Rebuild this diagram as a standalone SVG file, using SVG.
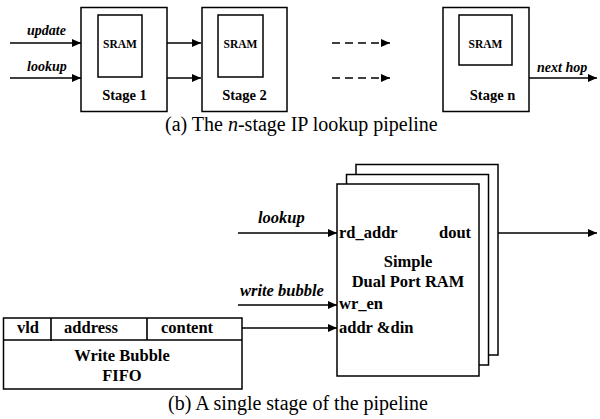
<svg xmlns="http://www.w3.org/2000/svg" width="600" height="419" viewBox="0 0 600 419">
<style>
.box{fill:#fff;stroke:#000;stroke-width:1.5}
.ln{fill:none;stroke:#000;stroke-width:1.6}
.arr{fill:none;stroke:#000;stroke-width:1.6;marker-end:url(#ah)}
.dash{fill:none;stroke:#000;stroke-width:1.6;stroke-dasharray:8 5;marker-end:url(#ah)}
.b{font-family:"Liberation Serif","Times New Roman",serif;font-weight:bold;fill:#000}
.bi{font-family:"Liberation Serif","Times New Roman",serif;font-weight:bold;font-style:italic;fill:#000}
.cap{font-family:"Liberation Serif","Times New Roman",serif;font-size:20px;fill:#000}
</style>
<defs>
<marker id="ah" markerUnits="userSpaceOnUse" markerWidth="10" markerHeight="8" refX="9" refY="4" orient="auto">
<path d="M0,0 L9,4 L0,8 Z" fill="#000"/>
</marker>
</defs>
<rect width="600" height="419" fill="#fff"/>

<g id="connectors">
<path class="arr" d="M10,43 H81"/>
<path class="arr" d="M10,78 H81"/>
<path class="arr" d="M166,43 H201"/>
<path class="arr" d="M166,78 H201"/>
<path class="dash" d="M332,43 H390"/>
<path class="dash" d="M332,78 H390"/>
<path class="arr" d="M529,78 H597"/>
<path class="arr" d="M238,233 H337"/>
<path class="arr" d="M498,233 H597"/>
<path class="arr" d="M238,305 H337"/>
<path class="arr" d="M242,328 H337"/>
<text class="bi" x="27" y="35" font-size="14">update</text>
<text class="bi" x="27" y="71" font-size="14">lookup</text>
<text class="bi" x="537" y="72" font-size="14">next hop</text>
<text class="bi" x="258" y="223" font-size="16.5">lookup</text>
<text class="bi" x="240" y="296" font-size="16.5">write bubble</text>
</g>

<g id="stage1">
<rect class="box" x="81" y="7.5" width="86" height="104"/>
<rect class="box" x="98" y="15" width="44" height="62"/>
<text class="b" x="120" y="48" font-size="11.5" text-anchor="middle">SRAM</text>
<text class="b" x="124.5" y="100" font-size="14.5" text-anchor="middle">Stage 1</text>
</g>

<g id="stage2">
<rect class="box" x="202" y="7.5" width="85" height="104"/>
<rect class="box" x="218" y="15" width="45" height="62"/>
<text class="b" x="240.5" y="48" font-size="11.5" text-anchor="middle">SRAM</text>
<text class="b" x="244.5" y="100" font-size="14.5" text-anchor="middle">Stage 2</text>
</g>

<g id="stagen">
<rect class="box" x="443" y="7.5" width="86" height="104"/>
<rect class="box" x="459" y="15" width="53" height="50"/>
<text class="b" x="485.5" y="48" font-size="11.5" text-anchor="middle">SRAM</text>
<text class="b" x="492.5" y="100" font-size="14.5" text-anchor="middle">Stage n</text>
</g>

<text class="cap" x="165" y="131">(a) The <tspan font-style="italic">n</tspan>-stage IP lookup pipeline</text>

<g id="ram">
<rect class="box" x="356" y="164.5" width="142" height="190.5"/>
<rect class="box" x="346.5" y="174.5" width="142" height="190.5"/>
<rect class="box" x="337" y="184" width="142" height="192"/>
<text class="b" x="339" y="238" font-size="16.5">rd_addr</text>
<text class="b" x="439" y="238" font-size="16.5">dout</text>
<text class="b" x="408" y="267" font-size="16.5" text-anchor="middle">Simple</text>
<text class="b" x="408" y="287" font-size="16.5" text-anchor="middle">Dual Port RAM</text>
<text class="b" x="339" y="309" font-size="16.5">wr_en</text>
<text class="b" x="339" y="333" font-size="16.5">addr &amp;din</text>
</g>

<g id="fifo">
<rect class="box" x="3.5" y="318" width="238.5" height="71"/>
<path class="ln" d="M3.5,340 H242 M51,318 V341 M147,318 V340" stroke-width="1.5"/>
<text class="b" x="28" y="333" font-size="16.5" text-anchor="middle">vld</text>
<text class="b" x="91" y="333" font-size="16.5" text-anchor="middle">address</text>
<text class="b" x="187" y="333" font-size="16.5" text-anchor="middle">content</text>
<text class="b" x="122" y="361" font-size="16.5" text-anchor="middle">Write Bubble</text>
<text class="b" x="122" y="381" font-size="16.5" text-anchor="middle">FIFO</text>
</g>

<text class="cap" x="168" y="410">(b) A single stage of the pipeline</text>
</svg>
